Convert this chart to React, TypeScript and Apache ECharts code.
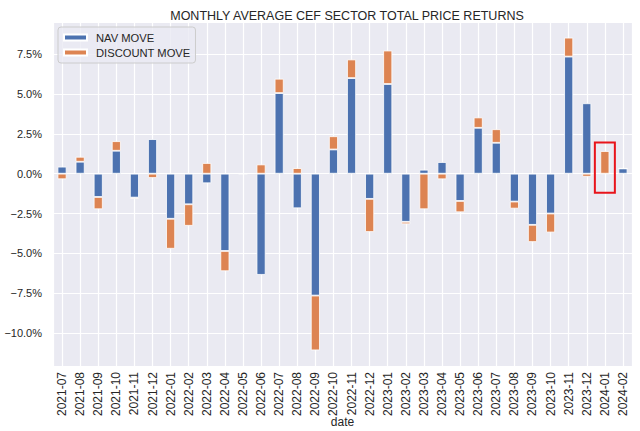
import React, { useEffect, useRef } from "react";
import * as echarts from "echarts";

const categories = [
  "2021-07", "2021-08", "2021-09", "2021-10", "2021-11", "2021-12",
  "2022-01", "2022-02", "2022-03", "2022-04", "2022-05", "2022-06",
  "2022-07", "2022-08", "2022-09", "2022-10", "2022-11", "2022-12",
  "2023-01", "2023-02", "2023-03", "2023-04", "2023-05", "2023-06",
  "2023-07", "2023-08", "2023-09", "2023-10", "2023-11", "2023-12",
  "2024-01", "2024-02",
];

const navMove = [
  0.44, 0.75, -1.46, 1.44, -1.5, 2.17,
  -2.83, -1.92, -0.6, -4.85, 0.0, -6.35,
  5.06, -2.17, -7.65, 1.52, 6.0, -1.58,
  5.63, -3.02, 0.25, 0.73, -1.71, 2.88,
  1.94, -1.75, -3.21, -2.5, 7.35, 4.42,
  0.0, 0.33,
];

const discountMove = [
  -0.35, 0.31, -0.77, 0.6, -0.08, -0.27,
  -1.88, -1.35, 0.67, -1.27, 0.0, 0.58,
  0.9, 0.35, -3.44, 0.83, 1.17, -2.08,
  2.1, -0.15, -2.23, -0.35, -0.71, 0.65,
  0.85, -0.44, -1.08, -1.19, 1.19, -0.19,
  1.42, 0.0,
];

const highlightCategory = "2024-01";
const highlightTop = 1.96;
const highlightBottom = -1.2;

const fmt = (v: number) => {
  const s = Math.abs(v).toFixed(1) + "%";
  return v < -1e-9 ? "\u2212" + s : s;
};

export default function App() {
  const ref = useRef<HTMLDivElement>(null);
  useEffect(() => {
    if (!ref.current) return;
    document.body.style.margin = "0";
    const chart = echarts.init(ref.current, undefined, { renderer: "svg" });

    const tops: number[] = [];
    const bots: number[] = [];
    navMove.forEach((n, i) => {
      const d = discountMove[i];
      tops.push(Math.max(n, 0) + Math.max(d, 0));
      bots.push(Math.min(n, 0) + Math.min(d, 0));
    });
    const pos = Math.max(...tops);
    const neg = Math.min(...bots);
    const span = pos - neg;
    const yMin = neg - span * 0.05;
    const yMax = pos + span * 0.05;

    const font = "'Liberation Sans', Arial, 'DejaVu Sans', sans-serif";
    const textColor = "#262626";
    const n = categories.length;

    chart.setOption({
      animation: false,
      backgroundColor: "#ffffff",
      textStyle: { fontFamily: font },
      title: {
        text: "MONTHLY AVERAGE CEF SECTOR TOTAL PRICE RETURNS",
        left: 342,
        top: 4,
        textAlign: "center",
        textStyle: { fontFamily: font, fontSize: 12.5, fontWeight: "normal", color: textColor },
      },
      legend: {
        orient: "vertical",
        left: 58,
        top: 27,
        padding: [5, 5, 5, 5],
        itemWidth: 23,
        itemHeight: 6,
        itemGap: 4,
        backgroundColor: "rgba(234,234,242,0.8)",
        borderColor: "#cccccc",
        borderWidth: 1,
        borderRadius: 3,
        icon: "rect",
        textStyle: { fontFamily: font, fontSize: 11.2, color: textColor, padding: [0, 0, 0, 4] },
        data: ["NAV MOVE", "DISCOUNT MOVE"],
      },
      grid: {
        left: 53,
        right: 8,
        top: 22,
        bottom: 65,
        containLabel: false,
        outerBoundsMode: "none",
        show: true,
        backgroundColor: "#EAEAF2",
        borderWidth: 0,
      },
      xAxis: [
        {
          type: "category",
          data: categories,
          name: "date",
          nameLocation: "middle",
          nameGap: 50,
          nameMoveOverlap: false,
          nameTextStyle: { fontFamily: font, fontSize: 12, color: textColor },
          axisLine: { show: false },
          axisTick: { show: false },
          axisLabel: { rotate: 90, margin: 6, fontSize: 12, color: textColor, fontFamily: font, interval: 0 },
          splitLine: { show: false },
        },
        {
          type: "value",
          position: "bottom",
          min: -0.5,
          max: n - 0.5,
          minInterval: 1,
          maxInterval: 1,
          axisLine: { show: false },
          axisTick: { show: false },
          axisLabel: { show: false },
          splitLine: { show: true, lineStyle: { color: "#ffffff", width: 1.2 } },
        },
      ],
      yAxis: {
        type: "value",
        min: yMin,
        max: yMax,
        minInterval: 2.5,
        maxInterval: 2.5,
        axisLine: { show: false },
        axisTick: { show: false },
        axisLabel: {
          showMinLabel: false,
          showMaxLabel: false,
          margin: 11,
          fontSize: 11,
          color: textColor,
          fontFamily: font,
          formatter: (v: number) => fmt(v),
        },
        splitLine: { show: true, lineStyle: { color: "#ffffff", width: 1.2 } },
      },
      series: [
        {
          name: "NAV MOVE",
          type: "bar",
          stack: "total",
          barWidth: "50%",
          data: navMove,
          itemStyle: { color: "#4C72B0", borderColor: "#ffffff", borderWidth: 0.8 },
        },
        {
          name: "DISCOUNT MOVE",
          type: "bar",
          stack: "total",
          barWidth: "50%",
          data: discountMove,
          itemStyle: { color: "#DD8452", borderColor: "#ffffff", borderWidth: 0.8 },
        },
      ],
    });

    const pTop = chart.convertToPixel({ xAxisIndex: 0, yAxisIndex: 0 }, [highlightCategory, highlightTop]) as number[];
    const pBot = chart.convertToPixel({ xAxisIndex: 0, yAxisIndex: 0 }, [highlightCategory, highlightBottom]) as number[];
    if (pTop && pBot) {
      chart.setOption({
        graphic: [
          {
            type: "rect",
            shape: { x: pTop[0] - 10, y: pTop[1], width: 20, height: pBot[1] - pTop[1] },
            style: { fill: "none", stroke: "#E8141B", lineWidth: 2 },
            z: 100,
          },
        ],
      });
    }

    return () => chart.dispose();
  }, []);
  return <div ref={ref} style={{ width: 640, height: 431 }} />;
}
